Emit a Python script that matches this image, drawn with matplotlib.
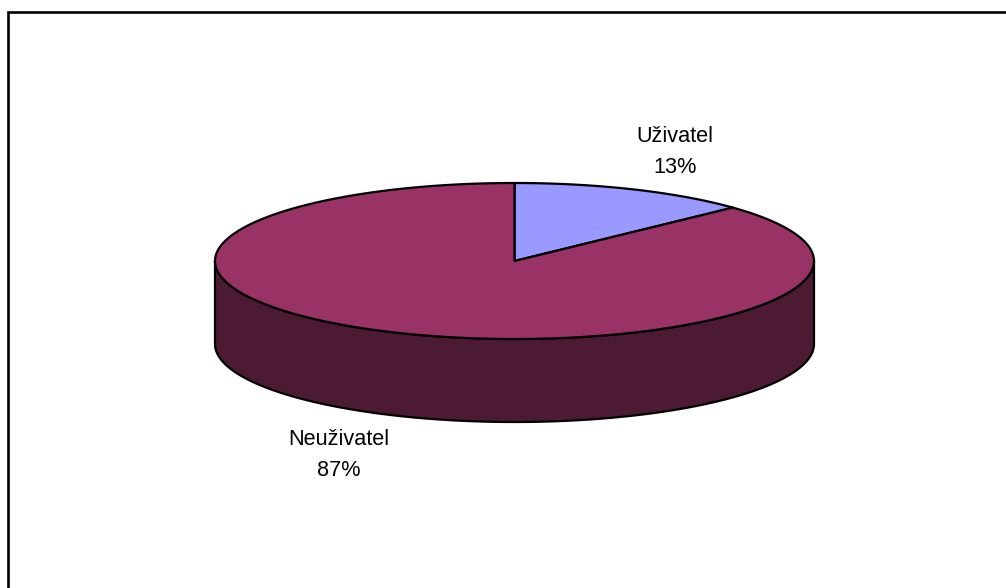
import numpy as np
import matplotlib
matplotlib.use("Agg")
import matplotlib.pyplot as plt

labels = ["Uživatel", "Neuživatel"]
values = [13, 87]
top_colors = ["#9999FF", "#993366"]
side_color = "#4D1A33"

W, H = 1006, 588
cx, cy, rx, ry, depth = 514.5, 261, 299.5, 78, 83

plt.rcParams["font.family"] = ["Liberation Sans", "DejaVu Sans"]
fig = plt.figure(figsize=(W / 100, H / 100), dpi=100, facecolor="white")
ax = fig.add_axes([0, 0, 1, 1])
ax.set_xlim(0, W)
ax.set_ylim(H, 0)
ax.axis("off")


def rim(a0, a1, dy=0.0, n=300):
    t = np.radians(np.linspace(a0, a1, n))
    return cx + rx * np.sin(t), cy - ry * np.cos(t) + dy


# side wall (front half of the disc)
xa, ya = rim(90, 270)
xb, yb = rim(270, 90, depth)
ax.fill(np.r_[xa, xb], np.r_[ya, yb], fc=side_color, ec="black", lw=1.6, joinstyle="round", zorder=1)

# top face wedges
fractions = np.array(values) / sum(values)
start = 0.0
for frac, col in zip(fractions, top_colors):
    end = start + 360 * frac
    x, y = rim(start, end)
    ax.fill(np.r_[cx, x], np.r_[cy, y], fc=col, ec="black", lw=1.6, joinstyle="round", zorder=2)
    start = end

# chart frame: only the top and left edges fall inside the picture
ax.plot([8.5, 8.5, W], [H, 12, 12], color="black", lw=1.9, solid_joinstyle="miter", zorder=3)

label_pos = [(675, 152), (338.5, 455)]
for name, val, (lx, ly) in zip(labels, values, label_pos):
    ax.text(lx, ly, f"{name}\n{val}%", ha="center", va="center", fontsize=15.6,
            color="black", linespacing=1.66)

fig.savefig("out.png", dpi=100, facecolor="white")
